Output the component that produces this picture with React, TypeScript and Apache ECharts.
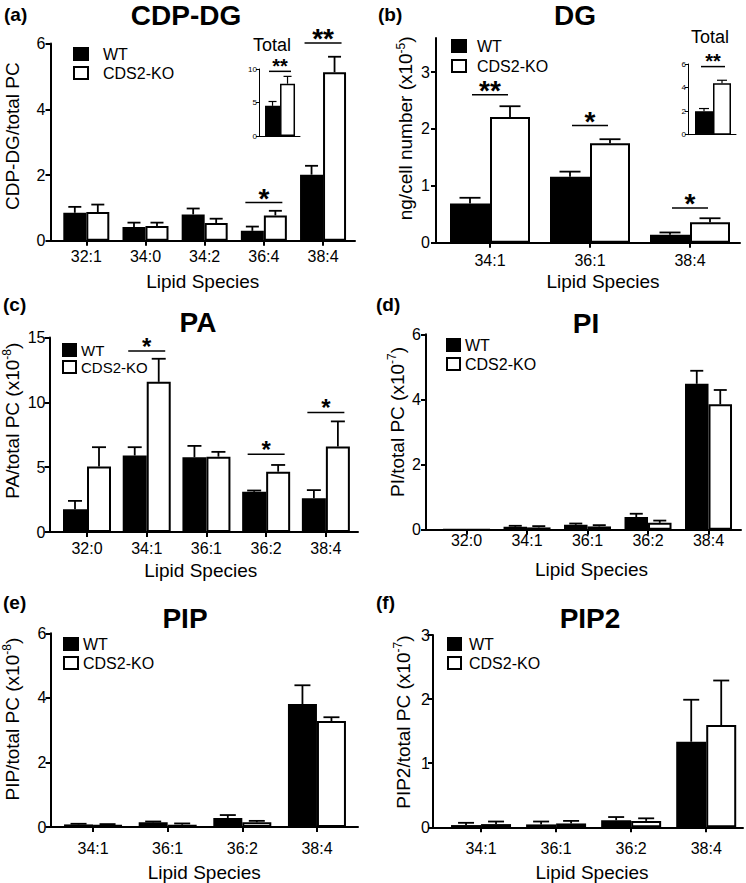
import React, { useEffect, useRef } from 'react';
import * as echarts from 'echarts';

const FONT = '"Liberation Sans", Arial, Helvetica, sans-serif';

// ---------- (a) CDP-DG ----------
const catsA = ['32:1', '34:0', '34:2', '36:4', '38:4'];
const wtA = [0.85, 0.42, 0.8, 0.3, 2.01];
const wtErrA = [0.18, 0.13, 0.18, 0.13, 0.27];
const koA = [0.87, 0.45, 0.54, 0.77, 5.13];
const koErrA = [0.23, 0.1, 0.13, 0.14, 0.47];
const sigCatsA = [3, 4];
const sigYA = [1.16, 6.02];
const sigLabA = ['*', '**'];
const yTicksA = [0, 2, 4, 6];
// inset (a) Total
const totWtA = [4.5];
const totWtErrA = [0.65];
const totKoA = [7.8];
const totKoErrA = [1.1];
const totSigYA = [9.65];
const totSigLabA = ['**'];
const yTicksTotA = [0, 5, 10];

// ---------- (b) DG ----------
const catsB = ['34:1', '36:1', '38:4'];
const wtB = [0.69, 1.16, 0.14];
const wtErrB = [0.1, 0.09, 0.04];
const koB = [2.21, 1.75, 0.36];
const koErrB = [0.19, 0.07, 0.07];
const sigCatsB = [0, 1, 2];
const sigYB = [2.6, 2.06, 0.61];
const sigLabB = ['**', '*', '*'];
const yTicksB = [0, 1, 2, 3];
// inset (b) Total
const totWtB = [2.0];
const totWtErrB = [0.22];
const totKoB = [4.36];
const totKoErrB = [0.26];
const totSigYB = [5.78];
const totSigLabB = ['**'];
const yTicksTotB = [0, 2, 4, 6];

// ---------- (c) PA ----------
const catsC = ['32:0', '34:1', '36:1', '36:2', '38:4'];
const wtC = [1.76, 5.9, 5.76, 3.1, 2.61];
const wtErrC = [0.64, 0.64, 0.88, 0.1, 0.62];
const koC = [5.06, 11.58, 5.81, 4.65, 6.59];
const koErrC = [1.48, 1.78, 0.37, 0.52, 1.94];
const sigCatsC = [1, 3, 4];
const sigYC = [13.95, 6.0, 9.22];
const sigLabC = ['*', '*', '*'];
const yTicksC = [0, 5, 10, 15];

// ---------- (d) PI ----------
const catsD = ['32:0', '34:1', '36:1', '36:2', '38:4'];
const wtD = [0, 0.09, 0.15, 0.39, 4.48];
const wtErrD = [0, 0.03, 0.04, 0.1, 0.4];
const koD = [0, 0.07, 0.1, 0.21, 3.85];
const koErrD = [0, 0.04, 0.04, 0.07, 0.44];
const yTicksD = [0, 2, 4, 6];

// ---------- (e) PIP ----------
const catsE = ['34:1', '36:1', '36:2', '38:4'];
const wtE = [0.08, 0.145, 0.28, 3.81];
const wtErrE = [0.02, 0.025, 0.09, 0.58];
const koE = [0.07, 0.07, 0.145, 3.28];
const koErrE = [0.02, 0.04, 0.045, 0.12];
const yTicksE = [0, 2, 4, 6];

// ---------- (f) PIP2 ----------
const catsF = ['34:1', '36:1', '36:2', '38:4'];
const wtF = [0.035, 0.045, 0.11, 1.335];
const wtErrF = [0.035, 0.045, 0.05, 0.655];
const koF = [0.05, 0.06, 0.1, 1.595];
const koErrF = [0.04, 0.04, 0.04, 0.695];
const yTicksF = [0, 1, 2, 3];

const emptyNum: number[] = [];
const emptyStr: string[] = [];

type Panel = {
  left: number; top: number; width: number; height: number;
  xMin: number; xMax: number; yMax: number; yTicks: number[];
  cats: string[]; wt: number[]; wtErr: number[]; ko: number[]; koErr: number[];
  barW: number; cap: number;
  sigCats: number[]; sigY: number[]; sigLab: string[]; sigHalf: number; starSize: number;
  yName: string; yNameGap: number; yShift: number; yLabelMargin: number;
  xLabelMargin: number; xNameGap: number; xShift: number;
  legend: null | { left: number; top: number; gap: number; pad: number; w: number; size: number };
  inset: boolean;
};

const panels: Panel[] = [
  {
    left: 49, top: 43.6, width: 306, height: 197.1, xMin: -0.605, xMax: 4.54, yMax: 6, yTicks: yTicksA,
    cats: catsA, wt: wtA, wtErr: wtErrA, ko: koA, koErr: koErrA, barW: 23, cap: 13,
    sigCats: sigCatsA, sigY: sigYA, sigLab: sigLabA, sigHalf: 18.5, starSize: 28,
    yName: 'CDP-DG/total PC', yNameGap: 27.5, yShift: 6, yLabelMargin: 5,
    xLabelMargin: 8, xNameGap: 31.5, xShift: 0,
    legend: { left: 73, top: 46, gap: 3, pad: 10, w: 14, size: 16 }, inset: false,
  },
  {
    left: 259, top: 69, width: 41, height: 67, xMin: -1, xMax: 0.95, yMax: 10, yTicks: yTicksTotA,
    cats: emptyStr, wt: totWtA, wtErr: totWtErrA, ko: totKoA, koErr: totKoErrA, barW: 15, cap: 8,
    sigCats: [0], sigY: totSigYA, sigLab: totSigLabA, sigHalf: 11, starSize: 20,
    yName: '', yNameGap: 0, yShift: 0, yLabelMargin: 2,
    xLabelMargin: 0, xNameGap: 0, xShift: 0, legend: null, inset: true,
  },
  {
    left: 436, top: 38, width: 304, height: 204.7, xMin: -0.54, xMax: 2.5, yMax: 3.6, yTicks: yTicksB,
    cats: catsB, wt: wtB, wtErr: wtErrB, ko: koB, koErr: koErrB, barW: 40, cap: 21,
    sigCats: sigCatsB, sigY: sigYB, sigLab: sigLabB, sigHalf: 18, starSize: 28,
    yName: 'ng/cell number (x10{sup|-5})', yNameGap: 19.5, yShift: 12, yLabelMargin: 6,
    xLabelMargin: 10, xNameGap: 29.5, xShift: 15,
    legend: { left: 451, top: 38, gap: 4, pad: 6, w: 14, size: 16 }, inset: false,
  },
  {
    left: 688, top: 64, width: 48, height: 70.7, xMin: -1, xMax: 0.92, yMax: 6, yTicks: yTicksTotB,
    cats: emptyStr, wt: totWtB, wtErr: totWtErrB, ko: totKoB, koErr: totKoErrB, barW: 18, cap: 10,
    sigCats: [0], sigY: totSigYB, sigLab: totSigLabB, sigHalf: 12, starSize: 20,
    yName: '', yNameGap: 0, yShift: 0, yLabelMargin: 2,
    xLabelMargin: 0, xNameGap: 0, xShift: 0, legend: null, inset: true,
  },
  {
    left: 48, top: 337.5, width: 310, height: 194.5, xMin: -0.628, xMax: 4.538, yMax: 15, yTicks: yTicksC,
    cats: catsC, wt: wtC, wtErr: wtErrC, ko: koC, koErr: koErrC, barW: 24, cap: 14,
    sigCats: sigCatsC, sigY: sigYC, sigLab: sigLabC, sigHalf: 18.5, starSize: 24,
    yName: 'PA/total PC (x10{sup|-8})', yNameGap: 26.5, yShift: 14, yLabelMargin: 4,
    xLabelMargin: 8, xNameGap: 28.5, xShift: -3,
    legend: { left: 62, top: 342.5, gap: 2, pad: 0, w: 13, size: 15 }, inset: false,
  },
  {
    left: 426, top: 334.3, width: 315, height: 195.4, xMin: -0.67, xMax: 4.537, yMax: 6, yTicks: yTicksD,
    cats: catsD, wt: wtD, wtErr: wtErrD, ko: koD, koErr: koErrD, barW: 23.5, cap: 13,
    sigCats: emptyNum, sigY: emptyNum, sigLab: emptyStr, sigHalf: 18, starSize: 28,
    yName: 'PI/total PC (x10{sup|-7})', yNameGap: 12, yShift: 10, yLabelMargin: 5,
    xLabelMargin: 3, xNameGap: 30.5, xShift: 8,
    legend: { left: 446, top: 337, gap: 3, pad: 0, w: 13, size: 16 }, inset: false,
  },
  {
    left: 49, top: 633.3, width: 309, height: 193.7, xMin: -0.57, xMax: 3.55, yMax: 6, yTicks: yTicksE,
    cats: catsE, wt: wtE, wtErr: wtErrE, ko: koE, koErr: koErrE, barW: 29, cap: 16,
    sigCats: emptyNum, sigY: emptyNum, sigLab: emptyStr, sigHalf: 18, starSize: 28,
    yName: 'PIP/total PC (x10{sup|-8})', yNameGap: 27.5, yShift: 11, yLabelMargin: 4,
    xLabelMargin: 13, xNameGap: 35.5, xShift: 0,
    legend: { left: 63, top: 636, gap: 3, pad: 0, w: 14, size: 16 }, inset: false,
  },
  {
    left: 433, top: 635, width: 310, height: 192.3, xMin: -0.64, xMax: 3.49, yMax: 3, yTicks: yTicksF,
    cats: catsF, wt: wtF, wtErr: wtErrF, ko: koF, koErr: koErrF, barW: 30, cap: 16,
    sigCats: emptyNum, sigY: emptyNum, sigLab: emptyStr, sigHalf: 18, starSize: 28,
    yName: 'PIP2/total PC (x10{sup|-7})', yNameGap: 19, yShift: 9, yLabelMargin: 3,
    xLabelMargin: 13, xNameGap: 35.5, xShift: 4,
    legend: { left: 447, top: 636, gap: 3, pad: 3, w: 13, size: 16 }, inset: false,
  },
];

const titles = [
  { text: 'CDP-DG', x: 186, y: 15 },
  { text: 'DG', x: 575, y: 15 },
  { text: 'PA', x: 198, y: 322 },
  { text: 'PI', x: 586, y: 323 },
  { text: 'PIP', x: 185, y: 618 },
  { text: 'PIP2', x: 590, y: 618 },
];
const letters = [
  { text: '(a)', x: 4, y: 14 },
  { text: '(b)', x: 378, y: 14 },
  { text: '(c)', x: 3, y: 304 },
  { text: '(d)', x: 376, y: 304 },
  { text: '(e)', x: 3, y: 602 },
  { text: '(f)', x: 376, y: 602 },
];
const insetTitles = [
  { text: 'Total', x: 272, y: 45 },
  { text: 'Total', x: 710, y: 37 },
];

function errSeries(gi: number, vals: number[], errs: number[], offset: number, cap: number, lw: number) {
  return {
    type: 'custom',
    xAxisIndex: gi,
    yAxisIndex: gi,
    clip: false,
    silent: true,
    z: 3,
    data: vals.map((v, i) => [i, v, errs[i]]),
    encode: { x: 0, y: 1 },
    renderItem: (params: any, api: any) => {
      const x = api.value(0);
      const v = api.value(1);
      const e = api.value(2);
      if (!e) return { type: 'group', children: [] };
      const base = api.coord([x, v]);
      const top = api.coord([x, v + e]);
      const cx = base[0] + offset;
      return {
        type: 'group',
        children: [
          { type: 'line', shape: { x1: cx, y1: base[1], x2: cx, y2: top[1] }, style: { stroke: '#000', lineWidth: lw } },
          { type: 'line', shape: { x1: cx - cap / 2, y1: top[1], x2: cx + cap / 2, y2: top[1] }, style: { stroke: '#000', lineWidth: lw } },
        ],
      };
    },
  };
}

function sigSeries(gi: number, p: Panel) {
  return {
    type: 'custom',
    xAxisIndex: gi,
    yAxisIndex: gi,
    clip: false,
    silent: true,
    z: 4,
    data: p.sigCats.map((c, i) => [c, p.sigY[i]]),
    encode: { x: 0, y: 1 },
    renderItem: (params: any, api: any) => {
      const pt = api.coord([api.value(0), api.value(1)]);
      const lab = p.sigLab[params.dataIndex];
      return {
        type: 'group',
        children: [
          { type: 'line', shape: { x1: pt[0] - p.sigHalf, y1: pt[1], x2: pt[0] + p.sigHalf, y2: pt[1] }, style: { stroke: '#000', lineWidth: 1.5 } },
          {
            type: 'text', x: pt[0], y: pt[1] - (10 - 0.21 * p.starSize),
            style: {
              text: lab, fontSize: p.starSize, lineHeight: Math.round(p.starSize * 0.7), fontWeight: 'bold',
              fontFamily: FONT, fill: '#000', align: 'center', verticalAlign: 'middle',
            },
          },
        ],
      };
    },
  };
}

function buildOption() {
  const grid: any[] = [];
  const xAxis: any[] = [];
  const yAxis: any[] = [];
  const series: any[] = [];
  const legend: any[] = [];
  const graphic: any[] = [];

  panels.forEach((p, gi) => {
    const axW = p.inset ? 1 : 2;
    const tickLen = p.inset ? 3 : 5;
    grid.push({ left: p.left, top: p.top, width: p.width, height: p.height });
    const catIdx = p.cats.map((_, i) => i);
    xAxis.push({
      type: 'value', gridIndex: gi, min: p.xMin, max: p.xMax,
      axisLine: { show: true, onZero: false, lineStyle: { color: '#000', width: axW } },
      axisTick: { show: !p.inset, customValues: catIdx, length: tickLen, lineStyle: { color: '#000', width: axW } },
      axisLabel: {
        show: !p.inset, customValues: catIdx,
        formatter: (v: number) => p.cats[Math.round(v)] ?? '',
        fontSize: 16, color: '#000', fontFamily: FONT, margin: p.xLabelMargin,
      },
      splitLine: { show: false },
      name: p.inset ? '' : 'Lipid Species',
      nameLocation: 'middle',
      nameGap: p.xNameGap,
      nameTextStyle: {
        fontSize: 19, color: '#000', fontFamily: FONT,
        padding: p.xShift >= 0 ? [0, 0, 0, 2 * p.xShift] : [0, -2 * p.xShift, 0, 0],
      },
    });
    yAxis.push({
      type: 'value', gridIndex: gi, min: 0, max: p.yMax,
      axisLine: { show: true, onZero: false, lineStyle: { color: '#000', width: axW } },
      axisTick: { show: true, customValues: p.yTicks, length: tickLen, lineStyle: { color: '#000', width: axW } },
      axisLabel: {
        customValues: p.yTicks, fontSize: p.inset ? 8 : 16, color: '#000', fontFamily: FONT, margin: p.yLabelMargin,
      },
      splitLine: { show: false },
      name: p.yName,
      nameLocation: 'middle',
      nameGap: p.yNameGap,
      nameTextStyle: {
        fontSize: 19, color: '#000', fontFamily: FONT, lineHeight: 22,
        padding: [0, 0, 0, 2 * p.yShift],
        rich: { sup: { fontSize: 12, fontFamily: FONT, color: '#000', verticalAlign: 'top' } },
      },
    });
    series.push({
      type: 'bar', name: 'WT', xAxisIndex: gi, yAxisIndex: gi, silent: true,
      data: p.wt.map((v, i) => [i, v]), barWidth: p.barW, barGap: '0%',
      itemStyle: { color: '#000', borderColor: '#000', borderWidth: p.inset ? 1.5 : 2 },
    });
    series.push({
      type: 'bar', name: 'CDS2-KO', xAxisIndex: gi, yAxisIndex: gi, silent: true,
      data: p.ko.map((v, i) => [i, v]), barWidth: p.barW, barGap: '0%',
      itemStyle: { color: '#fff', borderColor: '#000', borderWidth: p.inset ? 1.5 : 2 },
    });
    series.push(errSeries(gi, p.wt, p.wtErr, -p.barW / 2, p.cap, p.inset ? 1.2 : 1.8));
    series.push(errSeries(gi, p.ko, p.koErr, p.barW / 2, p.cap, p.inset ? 1.2 : 1.8));
    if (p.sigCats.length) series.push(sigSeries(gi, p));
    if (p.legend) {
      legend.push({
        orient: 'vertical', left: p.legend.left, top: p.legend.top, padding: 0,
        itemWidth: p.legend.w, itemHeight: 12, itemGap: p.legend.gap, selectedMode: false,
        textStyle: { fontSize: p.legend.size, color: '#000', fontFamily: FONT, padding: [0, 0, 0, p.legend.pad] },
        data: [
          { name: 'WT', icon: 'rect', itemStyle: { color: '#000', borderColor: '#000', borderWidth: 2 } },
          { name: 'CDS2-KO', icon: 'rect', itemStyle: { color: '#fff', borderColor: '#000', borderWidth: 2 } },
        ],
      });
    }
  });

  titles.forEach((t) => graphic.push({
    type: 'text', x: t.x, y: t.y, silent: true,
    style: { text: t.text, fontSize: 28, fontWeight: 'bold', fontFamily: FONT, fill: '#000', align: 'center', verticalAlign: 'middle' },
  }));
  letters.forEach((t) => graphic.push({
    type: 'text', x: t.x, y: t.y, silent: true,
    style: { text: t.text, fontSize: 19, fontWeight: 'bold', fontFamily: FONT, fill: '#000', align: 'left', verticalAlign: 'middle' },
  }));
  insetTitles.forEach((t) => graphic.push({
    type: 'text', x: t.x, y: t.y, silent: true,
    style: { text: t.text, fontSize: 18, lineHeight: 18, fontFamily: FONT, fill: '#000', align: 'center', verticalAlign: 'middle' },
  }));

  return {
    animation: false,
    backgroundColor: '#fff',
    textStyle: { fontFamily: FONT, color: '#000' },
    grid, xAxis, yAxis, series, legend,
    graphic: { elements: graphic },
  };
}

export default function App() {
  const ref = useRef<HTMLDivElement>(null);
  useEffect(() => {
    if (!ref.current) return;
    const chart = echarts.init(ref.current, undefined, { renderer: 'svg' });
    chart.setOption(buildOption() as any);
    return () => chart.dispose();
  }, []);
  return (
    <div
      ref={ref}
      style={{ position: 'absolute', left: 0, top: 0, width: 746, height: 883, background: '#fff' }}
    />
  );
}
